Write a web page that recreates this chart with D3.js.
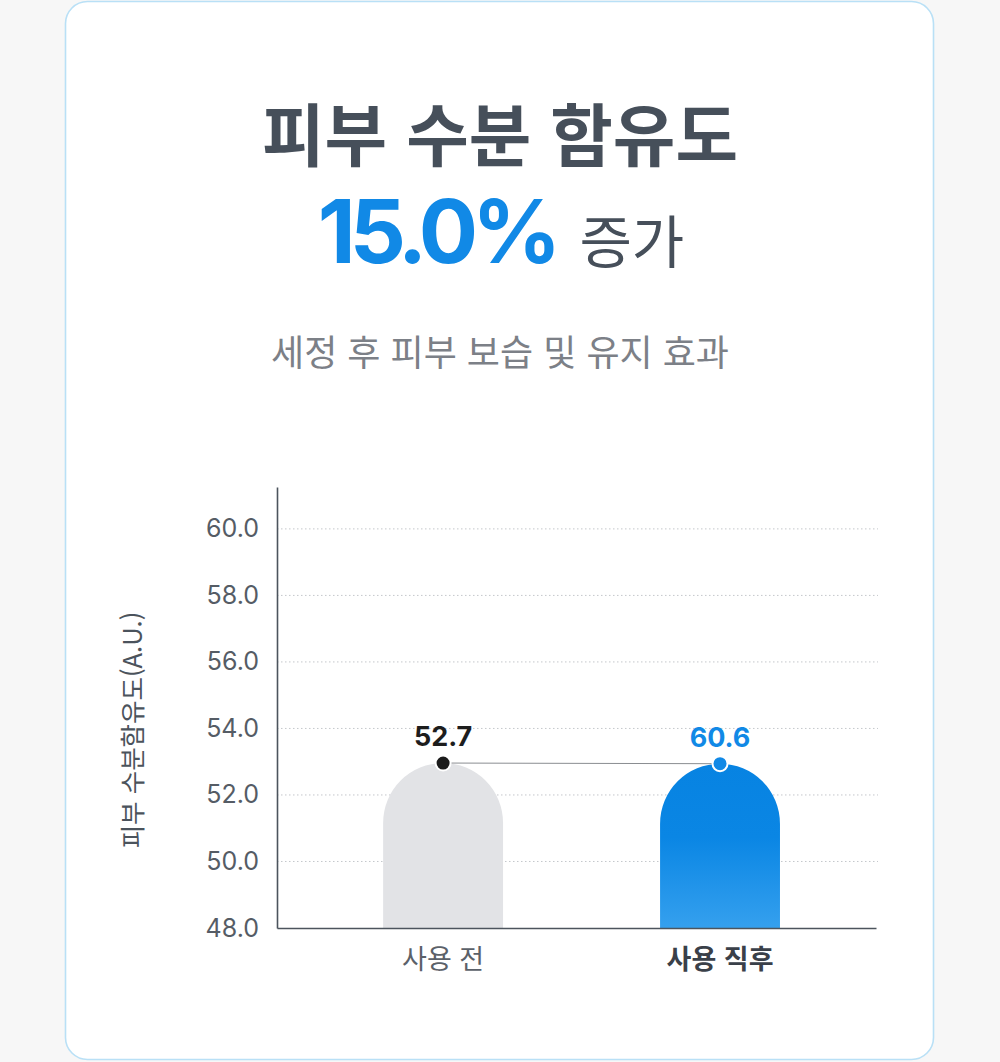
<!DOCTYPE html>
<html lang="ko">
<head>
<meta charset="utf-8">
<title>피부 수분 함유도</title>
<script src="https://d3js.org/d3.v7.min.js"></script>
<style>
  html, body { margin: 0; padding: 0; background: #f7f7f7; }
  svg { display: block; }
</style>
</head>
<body>
<script>
var w = 1000;
var h = 1062;

// data
var categories = ['사용 전', '사용 직후'];
var valueLabels = ['52.7', '60.6'];
// height the bars are actually drawn at in the picture (both tops sit near 53)
var barTops = [52.96, 52.94];
var yTicks = [48, 50, 52, 54, 56, 58, 60];

var font = "'Noto Sans CJK KR', 'Noto Sans', sans-serif";
var numFont = "Inter, 'Noto Sans CJK KR', sans-serif";
var dark = '#464f5a';
var blue = '#1189e6';

var svg = d3.select('body')
    .append('svg')
    .attr('width', w)
    .attr('height', h);

// card
svg.append('rect')
    .attr('x', 65.5).attr('y', 1.5)
    .attr('width', 868).attr('height', 1058)
    .attr('rx', 22)
    .attr('fill', '#fff')
    .attr('stroke', '#b9e0f6')
    .attr('stroke-width', 1.6);

// headings
svg.append('text')
    .attr('x', 500).attr('y', 161)
    .attr('text-anchor', 'middle')
    .attr('font-family', font)
    .attr('font-weight', 700)
    .attr('font-size', '68px')
    .attr('fill', dark)
    .text('피부 수분 함유도');

var line2 = svg.append('text')
    .attr('x', 501).attr('y', 263)
    .attr('text-anchor', 'middle')
    .attr('font-family', font);
line2.append('tspan')
    .attr('font-family', numFont)
    .attr('font-weight', 700)
    .attr('font-size', '88px')
    .attr('letter-spacing', '-6px')
    .attr('fill', blue)
    .text('15.0%');
line2.append('tspan')
    .attr('dx', 24)
    .attr('font-size', '57px')
    .attr('fill', dark)
    .text('증가');

svg.append('text')
    .attr('x', 500).attr('y', 366)
    .attr('text-anchor', 'middle')
    .attr('font-family', font)
    .attr('font-size', '36px')
    .attr('fill', '#7c8087')
    .text('세정 후 피부 보습 및 유지 효과');

// scales
var x0 = 277, x1 = 876, yBottom = 928;
var xScale = d3.scaleBand()
    .domain(categories)
    .range([x0, x1])
    .paddingInner(0.567)
    .paddingOuter(0.365)
    .align(0.525);

var yScale = d3.scaleLinear()
    .domain([48, 61.26])
    .range([yBottom, 487]);

// gridlines
svg.selectAll('.grid')
    .data(yTicks.filter(function(d){ return d > 48; }))
    .enter()
    .append('line')
    .attr('x1', x0).attr('x2', 878)
    .attr('y1', function(d){ return yScale(d); })
    .attr('y2', function(d){ return yScale(d); })
    .attr('stroke', '#c4c7cb')
    .attr('stroke-width', 1)
    .attr('stroke-dasharray', '1.5,2.5');

// y axis
var yAxis = d3.axisLeft(yScale)
    .tickValues(yTicks)
    .tickFormat(d3.format('.1f'))
    .tickSize(0)
    .tickPadding(18);
var gy = svg.append('g')
    .attr('transform', 'translate(' + x0 + ',0)')
    .call(yAxis);
gy.select('.domain').attr('stroke', '#4c545d').attr('stroke-width', 1.6);
gy.selectAll('text')
    .attr('font-family', numFont)
    .attr('font-size', '25px')
    .attr('fill', '#555c65');

svg.append('text')
    .attr('transform', 'translate(142,730) rotate(-90)')
    .attr('text-anchor', 'middle')
    .attr('font-family', font)
    .attr('font-size', '25.5px')
    .attr('fill', '#4b535c')
    .text('피부 수분함유도(A.U.)');

// gradient for second bar
var defs = svg.append('defs');
var grad = defs.append('linearGradient')
    .attr('id', 'blueGrad')
    .attr('x1', 0).attr('y1', 0).attr('x2', 0).attr('y2', 1);
grad.append('stop').attr('offset', '0%').attr('stop-color', '#0783e2');
grad.append('stop').attr('offset', '45%').attr('stop-color', '#0a86e4');
grad.append('stop').attr('offset', '100%').attr('stop-color', '#35a0ee');

// bars with rounded dome tops
var bw = xScale.bandwidth();
function barPath(i) {
    var left = xScale(categories[i]);
    var top = yScale(barTops[i]);
    var r = bw / 2;
    return 'M' + left + ',' + yBottom +
        'L' + left + ',' + (top + r) +
        'A' + r + ',' + r + ' 0 0 1 ' + (left + bw) + ',' + (top + r) +
        'L' + (left + bw) + ',' + yBottom + 'Z';
}
svg.selectAll('.bar')
    .data(categories)
    .enter()
    .append('path')
    .attr('d', function(d, i){ return barPath(i); })
    .attr('fill', function(d, i){ return i === 0 ? '#e2e3e6' : 'url(#blueGrad)'; });

// x axis
var xAxis = d3.axisBottom(xScale).tickSize(0).tickPadding(22);
var gx = svg.append('g')
    .attr('transform', 'translate(0,' + yBottom + ')')
    .call(xAxis);
gx.select('.domain').attr('stroke', '#4c545d').attr('stroke-width', 1.6);
gx.selectAll('text')
    .attr('font-family', font)
    .attr('font-size', '27px')
    .attr('font-weight', function(d, i){ return i === 1 ? 700 : 400; })
    .attr('fill', function(d, i){ return i === 1 ? '#3a4049' : '#5b6169'; });

// connector line
var cx = function(i){ return xScale(categories[i]) + bw / 2; };
svg.append('line')
    .attr('x1', cx(0)).attr('y1', yScale(barTops[0]))
    .attr('x2', cx(1)).attr('y2', yScale(barTops[1]))
    .attr('stroke', '#8a8d91')
    .attr('stroke-width', 1);

// markers
svg.selectAll('.dot')
    .data(categories)
    .enter()
    .append('circle')
    .attr('cx', function(d, i){ return cx(i); })
    .attr('cy', function(d, i){ return yScale(barTops[i]); })
    .attr('r', 7.5)
    .attr('fill', function(d, i){ return i === 0 ? '#1b1b1b' : blue; })
    .attr('stroke', '#fff')
    .attr('stroke-width', 2);

// value labels
svg.selectAll('.val')
    .data(valueLabels)
    .enter()
    .append('text')
    .attr('x', function(d, i){ return cx(i); })
    .attr('y', function(d, i){ return yScale(barTops[i]) - 17; })
    .attr('text-anchor', 'middle')
    .attr('font-family', numFont)
    .attr('font-weight', 700)
    .attr('font-size', '27px')
    .attr('fill', function(d, i){ return i === 0 ? '#1d1d1d' : blue; })
    .text(function(d){ return d; });
</script>
</body>
</html>
